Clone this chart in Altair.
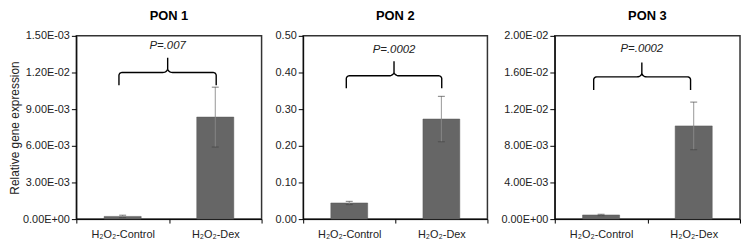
import altair as alt
import pandas as pd
import numpy as np

# ---------------- data ----------------
genes = ["PON 1", "PON 2", "PON 3"]
groups = ["H₂O₂-Control", "H₂O₂-Dex"]
means = {
    "PON 1": [0.00022, 0.00835],
    "PON 2": [0.044, 0.273],
    "PON 3": [0.00045, 0.01017],
}
errors = {
    "PON 1": [0.0001, 0.00245],
    "PON 2": [0.0045, 0.062],
    "PON 3": [0.00008, 0.0026],
}
pvalues = ["P=.007", "P=.0002", "P=.0002"]
y_max = [0.015, 0.5, 0.02]
tick_values = {
    "PON 1": [0.0, 0.003, 0.006, 0.009, 0.012, 0.015],
    "PON 2": [0.0, 0.1, 0.2, 0.3, 0.4, 0.5],
    "PON 3": [0.0, 0.004, 0.008, 0.012, 0.016, 0.02],
}
tick_labels = {
    "PON 1": ["0.00E+00", "3.00E-03", "6.00E-03", "9.00E-03", "1.20E-02", "1.50E-03"],
    "PON 2": ["0.00", "0.10", "0.20", "0.30", "0.40", "0.50"],
    "PON 3": ["0.00E+00", "4.00E-03", "8.00E-03", "1.20E-02", "1.60E-02", "2.00E-02"],
}

# ---------------- layout / style ----------------
widths = [187, 186, 187]
H = 185
FONT = "Liberation Sans"
BAR = "#666666"
# brace placement (fractions of panel width / height)
brace_x = [(0.23, 0.755, 0.493), (0.234, 0.752, 0.493), (0.21, 0.733, 0.47)]
brace_y = [(0.73, 0.80, 0.88, 0.946), (0.714, 0.782, 0.861, 0.925), (0.704, 0.776, 0.855, 0.93)]


def label_expr(vals, labs):
    step = vals[1] - vals[0]
    s = ""
    for v, l in zip(vals, labs):
        s += f"abs(datum.value - {v!r}) < {step / 10!r} ? '{l}' : "
    return s + "''"


def brace_points(i):
    W = widths[i]
    x0f, x1f, xcf = brace_x[i]
    ybf, yhf, ytf, _ = brace_y[i]
    x0, x1, xc = x0f * W, x1f * W, xcf * W
    yb, yh, yt = ybf * H, yhf * H, ytf * H
    r = 3.0
    s, s2 = 5.0, 4.0
    pts = [(x0, yb), (x0, yh - r)]
    for th in np.linspace(np.pi, np.pi / 2, 8):
        pts.append((x0 + r + r * np.cos(th), yh - r + r * np.sin(th)))
    pts.append((xc - s, yh))
    for th in np.linspace(-np.pi / 2, 0, 8):
        pts.append((xc - s + s * np.cos(th), yh + s2 + s2 * np.sin(th)))
    pts.append((xc, yt))
    for th in np.linspace(np.pi, 3 * np.pi / 2, 8):
        pts.append((xc + s + s * np.cos(th), yh + s2 + s2 * np.sin(th)))
    pts.append((x1 - r, yh))
    for th in np.linspace(np.pi / 2, 0, 8):
        pts.append((x1 - r + r * np.cos(th), yh - r + r * np.sin(th)))
    pts.append((x1, yb))
    ym = y_max[i]
    return pd.DataFrame({
        "bx": [p[0] / W for p in pts],
        "by": [p[1] / H * ym for p in pts],
        "k": list(range(len(pts))),
    })


def panel(i):
    g = genes[i]
    ym = y_max[i]
    df = pd.DataFrame({
        "group": groups,
        "mean": means[g],
        "lo": [m - e for m, e in zip(means[g], errors[g])],
        "hi": [m + e for m, e in zip(means[g], errors[g])],
    })
    caps = pd.DataFrame({
        "group": groups + groups,
        "v": list(df["lo"]) + list(df["hi"]),
    })
    yscale = alt.Scale(domain=[0, ym], nice=False, zero=True)
    axis_kw = dict(
        values=tick_values[g],
        labelExpr=label_expr(tick_values[g], tick_labels[g]),
        grid=False, tickSize=5, tickColor="#000", domainColor="#000",
        labelFont=FONT, labelFontSize=11, labelColor="#222", labelPadding=2,
    )
    if i == 0:
        yaxis = alt.Axis(
            title="Relative gene expression",
            titleFont=FONT, titleFontSize=12, titleFontWeight="normal",
            titleColor="#222", titleX=-55, **axis_kw,
        )
    else:
        yaxis = alt.Axis(title=None, **axis_kw)
    xdef = alt.X(
        "group:N", sort=groups,
        scale=alt.Scale(paddingInner=0, paddingOuter=0),
        axis=alt.Axis(
            title=None, labelAngle=0, tickBand="extent", tickSize=4,
            tickColor="#000", domainColor="#000", labelFont=FONT,
            labelFontSize=11, labelColor="#222", labelPadding=6,
        ),
    )
    bars = alt.Chart(df).mark_bar(
        width=alt.RelativeBandSize(0.4), color=BAR, stroke="#555", strokeWidth=0.5
    ).encode(x=xdef, y=alt.Y("mean:Q", scale=yscale, axis=yaxis))
    rules = alt.Chart(df).mark_rule(color="#8a8a8a", strokeWidth=0.9).encode(
        x=xdef, y=alt.Y("lo:Q", scale=yscale, axis=yaxis), y2="hi:Q"
    )
    capm = alt.Chart(caps).mark_tick(color="#444", size=7, thickness=1).encode(
        x=xdef, y=alt.Y("v:Q", scale=yscale, axis=yaxis)
    )
    bq = alt.Scale(domain=[0, 1], nice=False, zero=False)
    brace = alt.Chart(brace_points(i)).mark_line(color="#000", strokeWidth=1.4).encode(
        x=alt.X("bx:Q", scale=bq, axis=None),
        y=alt.Y("by:Q", scale=yscale, axis=yaxis),
        order="k:Q",
    )
    lab = pd.DataFrame({"t": [pvalues[i]], "x": [brace_x[i][2]], "y": [brace_y[i][3] * ym]})
    ptext = alt.Chart(lab).mark_text(
        font=FONT, fontSize=11.5, fontStyle="italic", color="#222"
    ).encode(
        x=alt.X("x:Q", scale=bq, axis=None),
        y=alt.Y("y:Q", scale=yscale, axis=yaxis),
        text="t:N",
    )
    return alt.layer(
        alt.layer(bars, rules, capm), alt.layer(brace, ptext)
    ).resolve_scale(x="independent").properties(
        width=widths[i], height=H,
        title=alt.Title(g, font=FONT, fontSize=13, fontWeight="bold", color="#000", offset=7),
    )


chart = alt.hconcat(panel(0), panel(1), panel(2), spacing=10).properties(
    padding={"left": 0, "top": 0, "right": 0, "bottom": 0}
).configure_view(stroke="#333", strokeWidth=1.5)

chart.save("out.html", embed_options={"renderer": "svg", "actions": False})
